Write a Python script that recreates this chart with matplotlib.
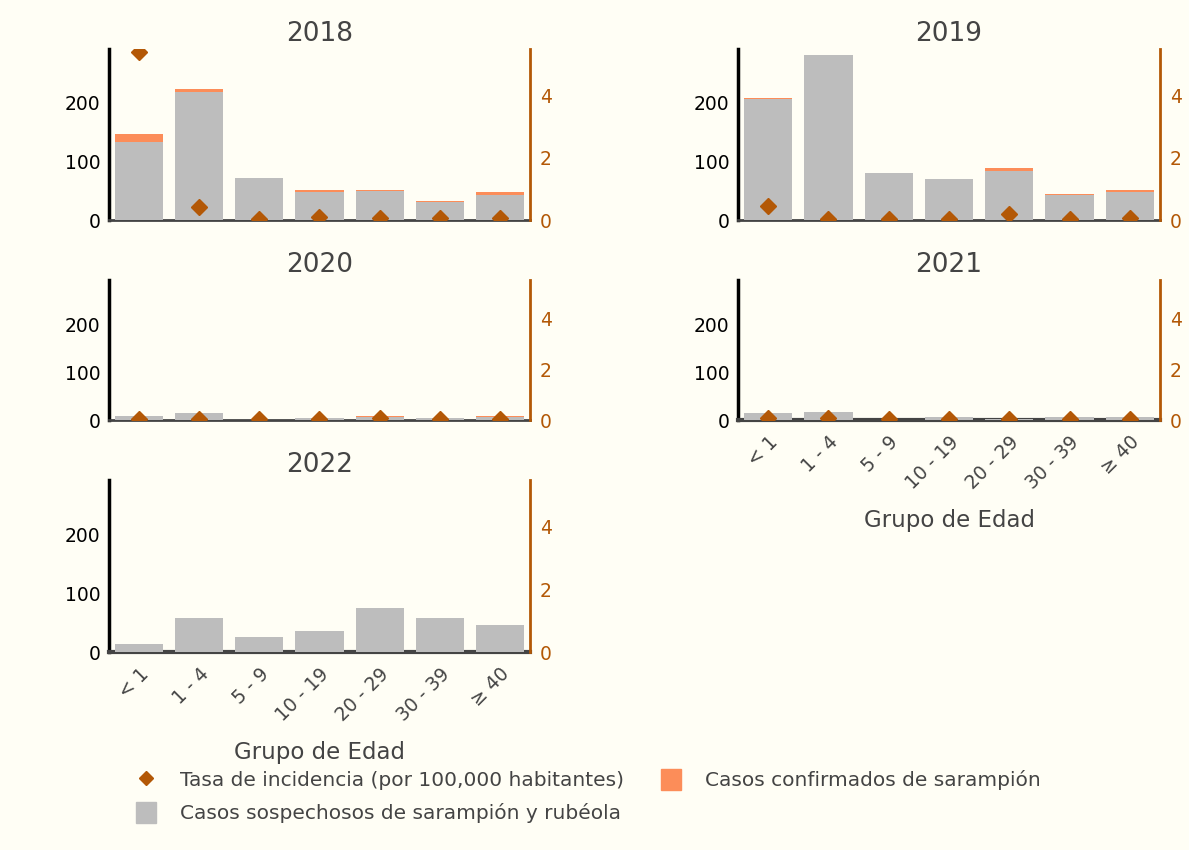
import numpy as np
import matplotlib.pyplot as plt
from matplotlib.patches import Patch
from matplotlib.lines import Line2D

# Data
grupos = ['< 1', '1 - 4', '5 - 9', '10 - 19', '20 - 29', '30 - 39', '≥ 40']
anios = ['2018', '2019', '2020', '2021', '2022']

sospechosos = {
    '2018': [134, 218, 72, 48, 49, 31, 43],
    '2019': [207, 281, 80, 70, 84, 43, 48],
    '2020': [8, 15, 1, 5, 6, 5, 6],
    '2021': [14, 17, 1, 6, 2, 6, 6],
    '2022': [13, 57, 26, 35, 75, 58, 45],
}
confirmados = {
    '2018': [13, 5, 0, 3, 1.5, 1, 4],
    '2019': [1.5, 0, 0, 0, 5, 1.5, 4],
    '2020': [0, 0, 0, 0, 3, 0, 3],
    '2021': [0, 0, 0, 0, 0, 0, 0],
    '2022': [0, 0, 0, 0, 0, 0, 0],
}
tasa = {
    '2018': [5.41, 0.41, 0.03, 0.1, 0.07, 0.05, 0.07],
    '2019': [0.46, 0.03, 0.03, 0.03, 0.19, 0.03, 0.05],
    '2020': [0.05, 0.05, 0.04, 0.05, 0.07, 0.04, 0.05],
    '2021': [0.06, 0.06, 0.05, 0.05, 0.05, 0.05, 0.05],
    '2022': [None] * 7,
}

bg = '#fffef5'
gris = '#bdbdbd'
naranja = '#fc8d59'
cafe = '#b35806'
texto = '#444444'

plt.rcParams['font.family'] = ['DejaVu Sans']

fig = plt.figure(figsize=(11.89, 8.5), dpi=100, facecolor=bg)
W, H = 1189, 850

# (left, top, right, bottom) in pixels
cajas = {
    '2018': (109, 49, 530, 220),
    '2019': (738, 49, 1160, 220),
    '2020': (109, 280, 530, 420),
    '2021': (738, 280, 1160, 420),
    '2022': (109, 480, 530, 652),
}
con_etiquetas = ['2021', '2022']

x = np.arange(len(grupos))

for anio in anios:
    l, t, r, b = cajas[anio]
    ax = fig.add_axes([l / W, 1 - b / H, (r - l) / W, (b - t) / H])
    ax.set_facecolor(bg)
    ax.bar(x, sospechosos[anio], width=0.8, color=gris, zorder=3)
    ax.bar(x, confirmados[anio], width=0.8, bottom=sospechosos[anio],
           color=naranja, zorder=3)
    ax.set_xlim(-0.5, 6.5)
    ax.set_ylim(0, 292)
    ax.set_yticks([0, 100, 200])
    ax.tick_params(axis='y', length=0, labelsize=13.5, pad=6, colors='black')
    ax.tick_params(axis='x', length=0)
    ax.spines['top'].set_visible(False)
    ax.spines['right'].set_visible(False)
    ax.spines['left'].set_color('black')
    ax.spines['left'].set_linewidth(2.5)
    ax.spines['bottom'].set_color(texto)
    ax.spines['bottom'].set_linewidth(3 if anio in con_etiquetas else 2)
    ax.set_xticks(x)
    if anio in con_etiquetas:
        ax.set_xticklabels(grupos, rotation=45, ha='right', va='top',
                           rotation_mode='anchor', fontsize=13.5, color=texto)
        ax.tick_params(axis='x', pad=9)
        ax.set_xlabel('Grupo de Edad', fontsize=16.5, color=texto, labelpad=12)
    else:
        ax.set_xticklabels([])
    ax.set_title(anio, fontsize=19, color=texto, pad=6)

    ax2 = ax.twinx()
    ax2.set_ylim(0, 5.5)
    ax2.set_yticks([0, 2, 4])
    ax2.tick_params(axis='y', length=0, labelsize=13.5, pad=7, colors=cafe)
    for s in ['top', 'left', 'bottom']:
        ax2.spines[s].set_visible(False)
    ax2.spines['right'].set_color(cafe)
    ax2.spines['right'].set_linewidth(2)
    vals = [np.nan if v is None else v for v in tasa[anio]]
    ax2.plot(x, vals, 'D', color=cafe, markersize=8, zorder=5)

handles = [
    Line2D([], [], marker='D', color=cafe, linestyle='none', markersize=7),
    Patch(color=gris),
    Patch(color=naranja),
]
labels = [
    'Tasa de incidencia (por 100,000 habitantes)',
    'Casos sospechosos de sarampión y rubéola',
    'Casos confirmados de sarampión',
]
fig.legend(handles, labels, ncol=2, loc='upper left',
           bbox_to_anchor=(118 / W, 1 - 751 / H), frameon=False,
           fontsize=14.5, labelcolor=texto, handlelength=1.0, handleheight=1.2,
           handletextpad=1.2, columnspacing=1.8, labelspacing=0.6)

fig.savefig('out.png', dpi=100, facecolor=bg)
